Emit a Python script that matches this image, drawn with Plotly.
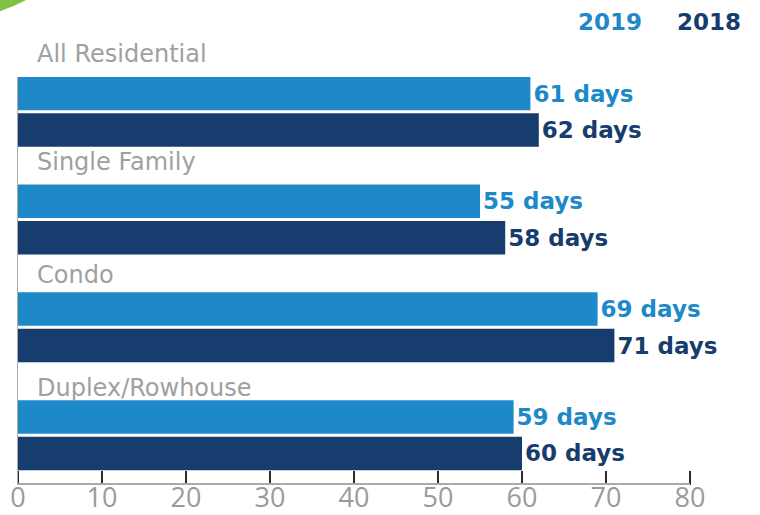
import plotly.graph_objects as go

# ---------------- data ----------------
categories = ["All Residential", "Single Family", "Condo", "Duplex/Rowhouse"]
series_names = ["2019", "2018"]
days_2019 = [61, 55, 69, 59]
days_2018 = [62, 58, 71, 60]
x_ticks = [0, 10, 20, 30, 40, 50, 60, 70, 80]

# ---------------- style / layout ----------------
W, H = 760, 515
L, R, T, B = 18, 70, 77, 32
C19 = "#1E89C8"
C18 = "#173D6E"
GRAY = "#9A9A9A"
VAL_FONT = "DejaVu Sans"
CAT_FONT = "DejaVu Sans"
TICK_FONT = "Open Sans"

GROUP = 107.8      # pixels per category group
FIRST = 93.5       # pixel centre of first 2019 bar
BAR_PX = 33.5
PAIR_PX = 36.5
LABEL_OFFSETS_PX = [-39.5, -39.5, -34.0, -29.0]   # label placement above each group
TICK_MARK_PX = 478  # centre of the short inward tick marks on the x axis


def y_of_px(py):
    return (py - FIRST) / GROUP


def paper_x(px):
    return (px - L) / (W - L - R)


def paper_y(py):
    return (H - B - py) / (H - T - B)


idx = list(range(len(categories)))
y19 = [i for i in idx]
y18 = [i + PAIR_PX / GROUP for i in idx]
bar_w = BAR_PX / GROUP

fig = go.Figure()
fig.add_trace(go.Bar(
    x=days_2019, y=y19, orientation="h", width=bar_w, name=series_names[0],
    marker=dict(color=C19, line=dict(width=0)),
    texttemplate="<b>%{x} days</b>", textposition="outside",
    textfont=dict(family=VAL_FONT, size=23, color=C19),
    cliponaxis=False, constraintext="none", hoverinfo="skip",
))
fig.add_trace(go.Bar(
    x=days_2018, y=y18, orientation="h", width=bar_w, name=series_names[1],
    marker=dict(color=C18, line=dict(width=0)),
    texttemplate="<b>%{x} days</b>", textposition="outside",
    textfont=dict(family=VAL_FONT, size=23, color=C18),
    cliponaxis=False, constraintext="none", hoverinfo="skip",
))
# inward tick marks along the x axis
fig.add_trace(go.Scatter(
    x=x_ticks, y=[y_of_px(TICK_MARK_PX)] * len(x_ticks), mode="markers",
    marker=dict(symbol="line-ns", size=10, color="#2B2B2B",
                line=dict(width=2, color="#2B2B2B")),
    cliponaxis=False, hoverinfo="skip", showlegend=False,
))

annotations = []
for i, cat in enumerate(categories):
    label_py = FIRST + i * GROUP + LABEL_OFFSETS_PX[i]
    annotations.append(dict(
        text=cat, xref="paper", yref="paper", x=paper_x(35), y=paper_y(label_py),
        xanchor="left", yanchor="middle", showarrow=False,
        font=dict(family=CAT_FONT, size=24, color="#A0A0A0"),
    ))

for name, col, cx in [(series_names[0], C19, 610), (series_names[1], C18, 709)]:
    annotations.append(dict(
        text="<b>%s</b>" % name, xref="paper", yref="paper",
        x=paper_x(cx), y=paper_y(22), xanchor="center", yanchor="middle",
        showarrow=False, font=dict(family=VAL_FONT, size=23, color=col),
    ))

# green corner decoration
p = lambda px, py: "%f,%f" % (paper_x(px), paper_y(py))
green_path = "M %s L %s Q %s %s Z" % (p(-2, -2), p(30, -2), p(13, 7), p(-2, 12))

fig.update_layout(
    width=W, height=H,
    margin=dict(l=L, r=R, t=T, b=B, pad=0, autoexpand=False),
    paper_bgcolor="white", plot_bgcolor="white",
    showlegend=False, barmode="overlay",
    annotations=annotations,
    shapes=[dict(type="path", xref="paper", yref="paper", path=green_path,
                 fillcolor="#7DC243", line=dict(width=0), layer="above")],
    xaxis=dict(
        range=[0, 80], tickvals=x_ticks, ticktext=[str(v) for v in x_ticks],
        ticks="", showline=True, linecolor="#AAAAAA", linewidth=2,
        showgrid=False, zeroline=False, automargin=False,
        ticklabelstandoff=-10,
        tickfont=dict(family=TICK_FONT, size=27, color=GRAY),
        fixedrange=True,
    ),
    yaxis=dict(
        range=[y_of_px(H - B), y_of_px(T)], automargin=False,
        showticklabels=False, ticks="", showgrid=False, zeroline=False,
        showline=True, linecolor="#AAAAAA", linewidth=1.5, fixedrange=True,
    ),
)

fig.write_html(
    "out.html",
    config={"displayModeBar": False, "staticPlot": True},
    post_script="document.body.style.margin='0px';document.body.style.overflow='hidden';",
)
